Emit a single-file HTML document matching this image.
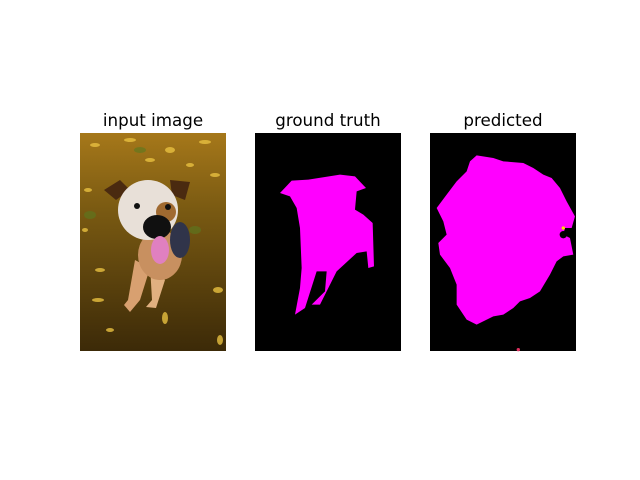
<!DOCTYPE html>
<html><head><meta charset="utf-8"><style>
html,body{margin:0;padding:0;background:#fff;}
svg{display:block;}
text{font-family:"DejaVu Sans","Liberation Sans",sans-serif;font-size:16.7px;fill:#000;}
</style></head><body>
<svg width="640" height="480" viewBox="0 0 640 480">
<defs>
<linearGradient id="bg" x1="0" y1="0" x2="0" y2="1">
<stop offset="0" stop-color="#a6781a"/><stop offset="0.35" stop-color="#7a5a12"/><stop offset="1" stop-color="#3c2a08"/>
</linearGradient>
<clipPath id="c1"><rect x="80" y="133" width="146" height="218"/></clipPath>
</defs>
<text x="153" y="126" text-anchor="middle">input image</text>
<text x="328" y="126" text-anchor="middle">ground truth</text>
<text x="503" y="126" text-anchor="middle">predicted</text>

<g clip-path="url(#c1)">
<rect x="80" y="133" width="146" height="218" fill="url(#bg)"/>
<g fill="#e8c040" opacity="0.8">
<ellipse cx="95" cy="145" rx="5" ry="2"/><ellipse cx="130" cy="140" rx="6" ry="2"/><ellipse cx="170" cy="150" rx="5" ry="3"/>
<ellipse cx="205" cy="142" rx="6" ry="2"/><ellipse cx="215" cy="175" rx="5" ry="2"/><ellipse cx="88" cy="190" rx="4" ry="2"/>
<ellipse cx="100" cy="270" rx="5" ry="2"/><ellipse cx="98" cy="300" rx="6" ry="2"/><ellipse cx="218" cy="290" rx="5" ry="3"/>
<ellipse cx="165" cy="318" rx="3" ry="6"/><ellipse cx="220" cy="340" rx="3" ry="5"/><ellipse cx="110" cy="330" rx="4" ry="2"/>
<ellipse cx="150" cy="160" rx="5" ry="2"/><ellipse cx="190" cy="165" rx="4" ry="2"/><ellipse cx="85" cy="230" rx="3" ry="2"/>
</g>
<g fill="#5a7a20" opacity="0.6"><ellipse cx="90" cy="215" rx="6" ry="4"/><ellipse cx="140" cy="150" rx="6" ry="3"/><ellipse cx="195" cy="230" rx="6" ry="4"/></g>
<path d="M135 260 L128 300 L124 305 L130 312 L140 300 L150 268 Z" fill="#d8a070"/>
<path d="M150 265 L152 300 L146 307 L156 308 L165 280 Z" fill="#e0b080"/>
<ellipse cx="160" cy="255" rx="22" ry="25" fill="#c89060"/>
<ellipse cx="180" cy="240" rx="10" ry="18" fill="#30344a"/>
<path d="M104 190 L120 180 L130 190 L116 200 Z" fill="#4a2a10"/>
<path d="M170 180 L190 182 L185 200 L172 195 Z" fill="#4a2a10"/>
<ellipse cx="148" cy="210" rx="30" ry="30" fill="#e8e0d8"/>
<ellipse cx="166" cy="212" rx="10" ry="10" fill="#a06a30"/>
<ellipse cx="157" cy="227" rx="14" ry="12" fill="#101010"/>
<ellipse cx="160" cy="250" rx="9" ry="14" fill="#e080c0"/>
<circle cx="137" cy="206" r="3" fill="#101010"/><circle cx="168" cy="207" r="3" fill="#101010"/>
</g>

<g>
<rect x="255" y="133" width="146" height="218" fill="#000"/>
<path transform="translate(250,128) scale(0.3333)" fill="#ff00ff" d="M90 195 L125 158 L175 155 L270 140 L315 145 L348 180 L320 190 L315 245 L340 260 L368 285 L372 415 L355 420 L350 370 L320 375 L260 430 L210 530 L185 530 L225 490 L230 430 L200 430 L165 540 L135 560 L150 480 L155 420 L150 300 L140 240 L120 205 Z"/>
</g>

<g>
<rect x="430" y="133" width="146" height="218" fill="#000"/>
<g transform="translate(250,128) scale(0.3333)">
<path fill="#ff00ff" d="M680 82 L730 90 L760 100 L820 105 L850 120 L880 140 L905 150 L930 180 L950 220 L975 265 L965 300 L945 300 L940 320 L960 330 L970 380 L940 385 L920 400 L900 440 L870 490 L840 510 L810 520 L790 540 L760 560 L730 565 L680 590 L650 575 L620 530 L620 470 L600 420 L570 380 L565 345 L590 320 L580 280 L560 240 L590 200 L620 160 L650 130 L660 100 Z"/>
<circle cx="940" cy="320" r="11" fill="#000"/>
<circle cx="940" cy="300" r="5" fill="#ffe000"/>
<circle cx="805" cy="665" r="5" fill="#e03060"/>
</g>
</g>
</svg>
</body></html>
